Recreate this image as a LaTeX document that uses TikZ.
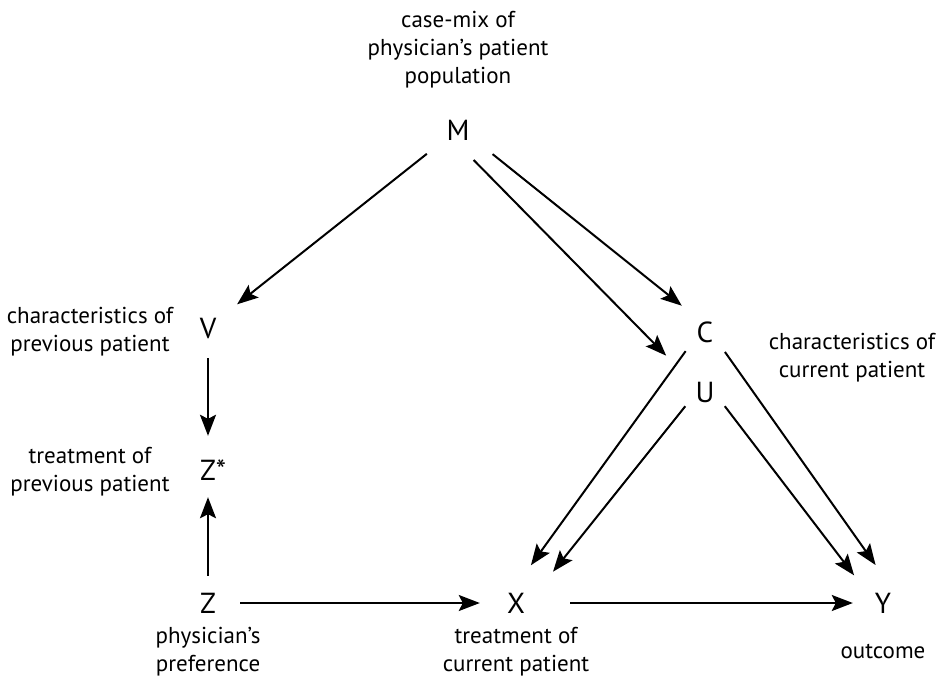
\documentclass[tikz,border=0pt]{standalone}
\usepackage{fontspec}
\setmainfont{PT Sans}
\usepackage{tikz}
\usetikzlibrary{arrows.meta}
\tikzset{
  var/.style={circle, inner sep=0pt, minimum size=56pt,
              font=\fontsize{29}{29}\selectfont},
  lab/.style={align=center, anchor=base, inner sep=0pt,
              font=\fontsize{23}{28}\selectfont},
  arrow/.style={-{Stealth[length=21pt, width=16pt, inset=4pt]}, line width=2pt},
}

\begin{document}
\begin{tikzpicture}[x=1pt, y=-1pt]
  \useasboundingbox (0,0) rectangle (943,678);

  % variables
  \node[var] (M)  at (458,130) {M};
  \node[var] (V)  at (208,329) {V};
  \node[var] (Zs) at (208,470) {Z\rlap{*}};
  \node[var] (Z)  at (208,603) {Z};
  \node[var] (X)  at (516,603) {X};
  \node[var] (Y)  at (883,603) {Y};
  \node[var] (C)  at (705,332) {C};
  \node[var] (U)  at (705,392) {U};

  % descriptions (placed at the baseline of their last line)
  \node[lab] (Mlab)  at (458,83)  {case-mix of\\physician's patient\\population};
  \node[lab] (Vlab)  at (90,351)  {characteristics of\\previous patient};
  \node[lab] (Zslab) at (90,491)  {treatment of\\previous patient};
  \node[lab] (Zlab)  at (208,671) {physician's\\preference};
  \node[lab] (Xlab)  at (516,671) {treatment of\\current patient};
  \node[lab] (Ylab)  at (883,658) {outcome};
  \node[lab] (Clab)  at (852,377) {characteristics of\\current patient};

  % edges: from/to/shorten start/shorten end
  \foreach \a/\b/\s/\e in {M.217/V.41/11/10, M.-33/C.129/14/7, M.-66/U.139/6/25,
      C.-135/X.75/-1/13, U.-142/X.32/-4/21, C.-45/Y.91/0/12, U.-38/Y.140/-4/12,
      V.-90/Zs.90/1/6, Z.90/Zs.-90/-1/-1, Z.0/X.180/4/8, X.0/Y.180/26/2}
    \draw[arrow, shorten <=\s pt, shorten >=\e pt] (\a) -- (\b);
\end{tikzpicture}
\end{document}
